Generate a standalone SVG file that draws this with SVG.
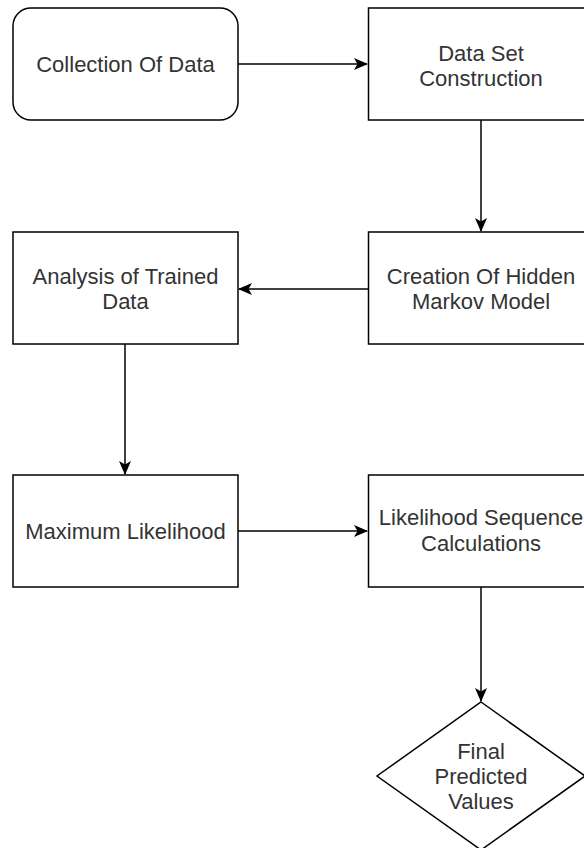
<svg xmlns="http://www.w3.org/2000/svg" width="584" height="848" viewBox="0 0 584 848">
  <style>
    .box { fill: #ffffff; stroke: #000000; stroke-width: 1.5; }
    .lbl { font-family: "Liberation Sans", Arial, Helvetica, sans-serif; font-size: 22px; fill: #333333; text-anchor: middle; }
    .edge { fill: none; stroke: #000000; stroke-width: 1.5; }
  </style>
  <defs>
    <marker id="arr" markerUnits="userSpaceOnUse" markerWidth="14" markerHeight="12" viewBox="0 0 14 12" refX="13" refY="6" orient="auto">
      <path d="M0,0 L14,6 L0,12 L3.5,6 Z" fill="#000000"/>
    </marker>
  </defs>
  <rect width="584" height="848" fill="#ffffff"/>

  <g id="connectors">
    <path class="edge" d="M238,64 L367,64" marker-end="url(#arr)"/>
    <path class="edge" d="M481,120 L481,231" marker-end="url(#arr)"/>
    <path class="edge" d="M368,289 L239,289" marker-end="url(#arr)"/>
    <path class="edge" d="M125,344 L125,474" marker-end="url(#arr)"/>
    <path class="edge" d="M238,531 L367,531" marker-end="url(#arr)"/>
    <path class="edge" d="M481,587 L481,701" marker-end="url(#arr)"/>
  </g>

  <g id="collection">
    <rect class="box" x="13" y="8" width="225" height="112" rx="18" ry="18"/>
    <text class="lbl" x="125.5" y="72">Collection Of Data</text>
  </g>

  <g id="dataset">
    <rect class="box" x="368.5" y="8" width="225" height="112"/>
    <text class="lbl" x="481" y="61">Data Set</text>
    <text class="lbl" x="481" y="86">Construction</text>
  </g>

  <g id="hmm">
    <rect class="box" x="368.5" y="232" width="225" height="112"/>
    <text class="lbl" x="481" y="284">Creation Of Hidden</text>
    <text class="lbl" x="481" y="309">Markov Model</text>
  </g>

  <g id="analysis">
    <rect class="box" x="13" y="232" width="225" height="112"/>
    <text class="lbl" x="125.5" y="284">Analysis of Trained</text>
    <text class="lbl" x="125.5" y="309">Data</text>
  </g>

  <g id="maxlikelihood">
    <rect class="box" x="13" y="475" width="225" height="112"/>
    <text class="lbl" x="125.5" y="539">Maximum Likelihood</text>
  </g>

  <g id="likelihoodseq">
    <rect class="box" x="368.5" y="475" width="225" height="112"/>
    <text class="lbl" x="481" y="525">Likelihood Sequence</text>
    <text class="lbl" x="481" y="551">Calculations</text>
  </g>

  <g id="final">
    <polygon class="box" points="481,702 585,776 481,850 377,776"/>
    <text class="lbl" x="481" y="759">Final</text>
    <text class="lbl" x="481" y="784">Predicted</text>
    <text class="lbl" x="481" y="809">Values</text>
  </g>
</svg>
